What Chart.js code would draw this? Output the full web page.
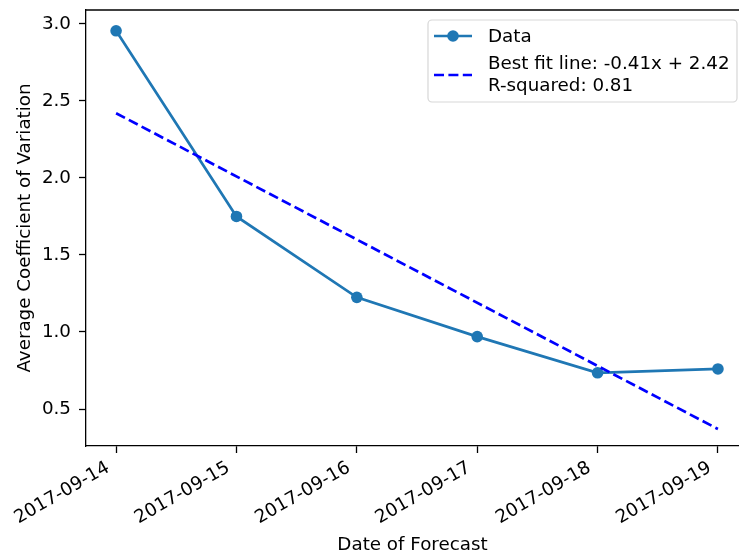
<!DOCTYPE html>
<html>
<head>
<meta charset="utf-8">
<script src="https://cdn.jsdelivr.net/npm/chart.js@4/dist/chart.umd.min.js"></script>
<style>
  html, body { margin: 0; padding: 0; background: #fff; overflow: hidden; }
  canvas { display: block; }
</style>
</head>
<body>
<canvas id="chart" width="739" height="556"></canvas>
<script>
// Forecast dates (category positions 0..5 on a numeric axis)
const forecastDates = ['2017-09-14', '2017-09-15', '2017-09-16', '2017-09-17', '2017-09-18', '2017-09-19'];
// Average coefficient of variation per forecast date
const avgCoefVariation = [2.955, 1.75, 1.225, 0.97, 0.735, 0.76];
// Linear fit reported in the legend
const fitSlope = -0.41;
const fitIntercept = 2.42;
const fitRSquared = 0.81;
// Tick values on the y axis
const yTickValues = [0.5, 1.0, 1.5, 2.0, 2.5, 3.0];

const FONT = 'DejaVu Sans';
const FS = 18.3;
const dataColor = '#1f77b4';
const fitColor = '#0000ff';

const dataPoints = avgCoefVariation.map((v, i) => ({ x: i, y: v }));
const lastIdx = forecastDates.length - 1;
const fitPoints = [
  { x: 0, y: fitIntercept },
  { x: lastIdx, y: fitIntercept + fitSlope * lastIdx }
];

const dataLabel = 'Data';
const fitLabelLines = [
  `Best fit line: ${fitSlope.toFixed(2)}x + ${fitIntercept.toFixed(2)}`,
  `R-squared: ${fitRSquared.toFixed(2)}`
];

// Legend box in the upper right, matplotlib style
const legendPlugin = {
  id: 'boxLegend',
  afterDatasetsDraw(chart) {
    const { ctx, chartArea } = chart;
    const right = chartArea.right - 2;
    const top = chartArea.top + 10;
    const w = 309, h = 82;
    const left = right - w;
    ctx.save();
    ctx.beginPath();
    ctx.roundRect(left, top, w, h, 4);
    ctx.fillStyle = 'rgba(255,255,255,0.8)';
    ctx.fill();
    ctx.lineWidth = 1.2;
    ctx.strokeStyle = 'rgba(204,204,204,0.8)';
    ctx.stroke();

    const hx0 = left + 6, hx1 = left + 44;
    // Data handle
    const y1 = top + 16;
    ctx.beginPath();
    ctx.moveTo(hx0, y1); ctx.lineTo(hx1, y1);
    ctx.strokeStyle = dataColor; ctx.lineWidth = 2.7; ctx.stroke();
    ctx.beginPath();
    ctx.arc((hx0 + hx1) / 2, y1, 5.8, 0, Math.PI * 2);
    ctx.fillStyle = dataColor; ctx.fill();
    // Fit handle
    const y2 = top + 55;
    ctx.beginPath();
    ctx.setLineDash([10, 4.4]);
    ctx.moveTo(hx0, y2); ctx.lineTo(hx1, y2);
    ctx.strokeStyle = fitColor; ctx.lineWidth = 2.7; ctx.stroke();
    ctx.setLineDash([]);

    ctx.fillStyle = '#000';
    ctx.font = `${FS}px "${FONT}"`;
    ctx.textAlign = 'left';
    ctx.textBaseline = 'middle';
    const tx = left + 60;
    ctx.fillText(dataLabel, tx, y1 + 1);
    ctx.fillText(fitLabelLines[0], tx, top + 44);
    ctx.fillText(fitLabelLines[1], tx, top + 66);
    ctx.restore();
  }
};

new Chart(document.getElementById('chart'), {
  type: 'line',
  data: {
    datasets: [
      {
        label: dataLabel,
        data: dataPoints,
        borderColor: dataColor,
        backgroundColor: dataColor,
        borderWidth: 2.7,
        pointRadius: 5.8,
        pointHoverRadius: 5.8,
        pointBorderWidth: 0,
        tension: 0,
        order: 2
      },
      {
        label: fitLabelLines.join(' '),
        data: fitPoints,
        borderColor: fitColor,
        borderWidth: 2.7,
        borderDash: [10, 4.4],
        pointRadius: 0,
        tension: 0,
        order: 1
      }
    ]
  },
  options: {
    responsive: false,
    animation: false,
    events: [],
    layout: { autoPadding: false, padding: { left: 0, top: 10, right: 0, bottom: 0 } },
    plugins: {
      legend: { display: false },
      tooltip: { enabled: false }
    },
    scales: {
      x: {
        type: 'linear',
        min: -0.25,
        max: 5.175,
        afterBuildTicks(scale) {
          scale.ticks = forecastDates.map((_, i) => ({ value: i }));
        },
        afterFit(scale) {
          scale.height = 110;
          scale.paddingLeft = 0;
          scale.paddingRight = 0;
        },
        grid: {
          display: true,
          drawOnChartArea: false,
          drawTicks: true,
          tickLength: 7,
          tickWidth: 1.3,
          tickColor: '#000'
        },
        border: { display: true, color: '#000', width: 1.3 },
        ticks: {
          autoSkip: false,
          maxRotation: 30,
          minRotation: 30,
          padding: 4,
          labelOffset: -8,
          color: '#000',
          font: { family: FONT, size: FS },
          callback: (v) => forecastDates[v]
        },
        title: {
          display: true,
          text: 'Date of Forecast',
          color: '#000',
          font: { family: FONT, size: FS },
          padding: { top: 0, bottom: 0 }
        }
      },
      y: {
        type: 'linear',
        min: 0.26,
        max: 3.09,
        afterBuildTicks(scale) {
          scale.ticks = yTickValues.map(v => ({ value: v }));
        },
        afterFit(scale) {
          scale.width = 86;
          scale.paddingTop = 0;
          scale.paddingBottom = 0;
        },
        grid: {
          display: true,
          drawOnChartArea: false,
          drawTicks: true,
          tickLength: 7,
          tickWidth: 1.3,
          tickColor: '#000'
        },
        border: { display: true, color: '#000', width: 1.3 },
        ticks: {
          padding: 8,
          color: '#000',
          font: { family: FONT, size: FS },
          callback: (v) => Number(v).toFixed(1)
        },
        title: {
          display: true,
          text: 'Average Coefficient of Variation',
          color: '#000',
          font: { family: FONT, size: FS },
          padding: { top: 14, bottom: 0 }
        }
      }
    }
  },
  plugins: [legendPlugin, {
    id: 'topSpine',
    afterDraw(chart) {
      const { ctx, chartArea } = chart;
      ctx.save();
      ctx.beginPath();
      ctx.moveTo(chartArea.left, chartArea.top);
      ctx.lineTo(chartArea.right, chartArea.top);
      ctx.strokeStyle = '#000';
      ctx.lineWidth = 1.3;
      ctx.stroke();
      ctx.restore();
    }
  }]
});
</script>
</body>
</html>
